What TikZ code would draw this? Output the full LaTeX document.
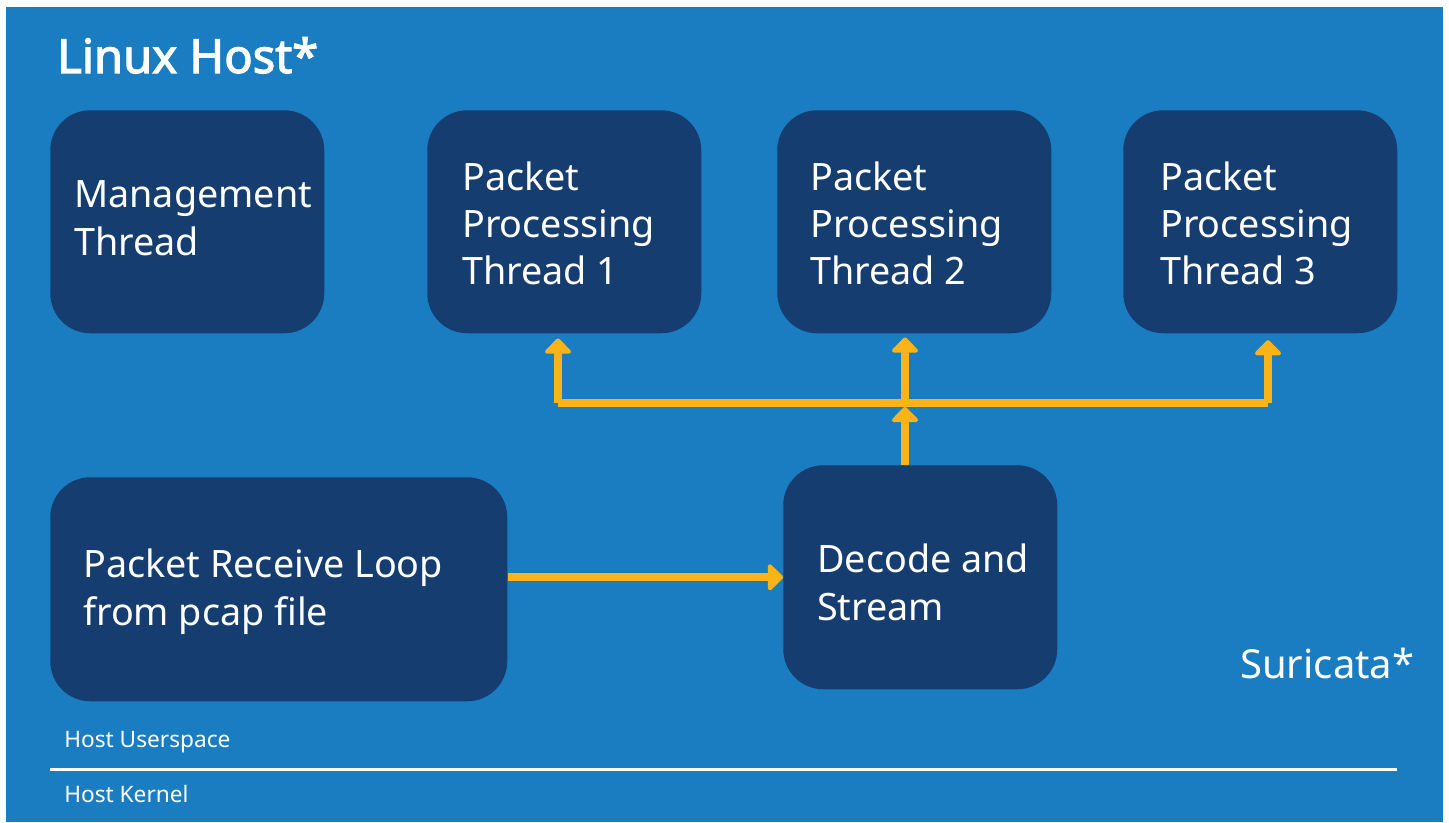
\documentclass[tikz,border=0pt]{standalone}
\usepackage{fontspec}
\setmainfont{Noto Sans}
\newfontfamily\titlefont{Noto Sans}[FakeBold=2.5]
\usetikzlibrary{arrows.meta,calc}
\definecolor{bgblue}{HTML}{1A7DC2}
\definecolor{boxblue}{HTML}{153D6F}
\definecolor{ayellow}{HTML}{FBB418}
\tikzset{
  box/.style={draw=none,fill=boxblue,rounded corners=30pt,anchor=north west,
    text=white,align=left,inner xsep=0pt,inner ysep=0pt},
  flow/.style={draw=ayellow,line width=6pt,
    -{Triangle[width=23pt,length=12pt,round]}},
  bus/.style={draw=ayellow,line width=6pt},
  btext/.style={anchor=base west,text=white,align=left,inner sep=0pt,
    font=\fontsize{28.3}{35.6}\selectfont},
}
\begin{document}
\begin{tikzpicture}[x=0.75pt,y=-0.75pt]
\useasboundingbox (0,0) rectangle (1449,823);
\fill[white] (0,0) rectangle (1449,823);
\fill[bgblue] (6,7) rectangle (1443,822);
% title
\node[anchor=base west,text=white,inner sep=0pt,font=\titlefont\fontsize{35.3}{40}\selectfont] (title) at (57,73) {Linux Host*};
% boxes
\node[box,minimum width=274*0.75pt,minimum height=223*0.75pt] (mgmt) at (50,110) {};
\node[box,minimum width=274*0.75pt,minimum height=223*0.75pt] (p1) at (427,110) {};
\node[box,minimum width=274*0.75pt,minimum height=223*0.75pt] (p2) at (777,110) {};
\node[box,minimum width=274*0.75pt,minimum height=223*0.75pt] (p3) at (1123,110) {};
\node[box,minimum width=457*0.75pt,minimum height=224*0.75pt] (recv) at (50,477) {};
\node[box,minimum width=274*0.75pt,minimum height=224*0.75pt] (dec) at (783,465) {};
% box texts
\node[btext] (tm1) at (74,208) {Management};
\node[btext] (tm2) at (74,256) {Thread};
\node[btext] (t11) at (462,191) {Packet};
\node[btext] (t12) at (462,238) {Processing};
\node[btext] (t13) at (462,285) {Thread 1};
\node[btext] (t21) at (810,191) {Packet};
\node[btext] (t22) at (810,238) {Processing};
\node[btext] (t23) at (810,285) {Thread 2};
\node[btext] (t31) at (1160,191) {Packet};
\node[btext] (t32) at (1160,238) {Processing};
\node[btext] (t33) at (1160,285) {Thread 3};
\node[btext] (tr1) at (83,577) {Packet Receive Loop};
\node[btext] (tr2) at (83,625) {from pcap file};
\node[btext] (td1) at (817,572) {Decode and};
\node[btext] (td2) at (817,620) {Stream};
% labels
\node[anchor=base west,text=white,inner sep=0pt,font=\fontsize{30}{36}\selectfont] (suri) at (1240,678) {Suricata*};
\node[anchor=base west,text=white,inner sep=0pt,font=\fontsize{17}{20}\selectfont] (us) at (64,747) {Host Userspace};
\node[anchor=base west,text=white,inner sep=0pt,font=\fontsize{17}{20}\selectfont] (hk) at (64,802) {Host Kernel};
% divider
\coordinate (dl) at (50,769);
\coordinate (dr) at (1397,769);
\draw[white,line width=2.25pt] (dl) -- (dr);
% bus
\coordinate (b1) at (558,403);
\coordinate (b2) at (905,403);
\coordinate (b3) at (1268,403);
\coordinate (bj) at (905,407);
\draw[bus] (b1) -- (b3);
\draw[flow,shorten >=3.75pt] (b1) -- (p1.south -| b1);
\draw[flow,shorten >=3pt] (b2) -- (p2.south -| b2);
\draw[flow,shorten >=5pt] (b3) -- (p3.south -| b3);
\draw[flow] (dec.north -| bj) -- (bj);
\draw[flow] (recv.east |- dec.west) -- (dec.west);
\end{tikzpicture}
\end{document}
